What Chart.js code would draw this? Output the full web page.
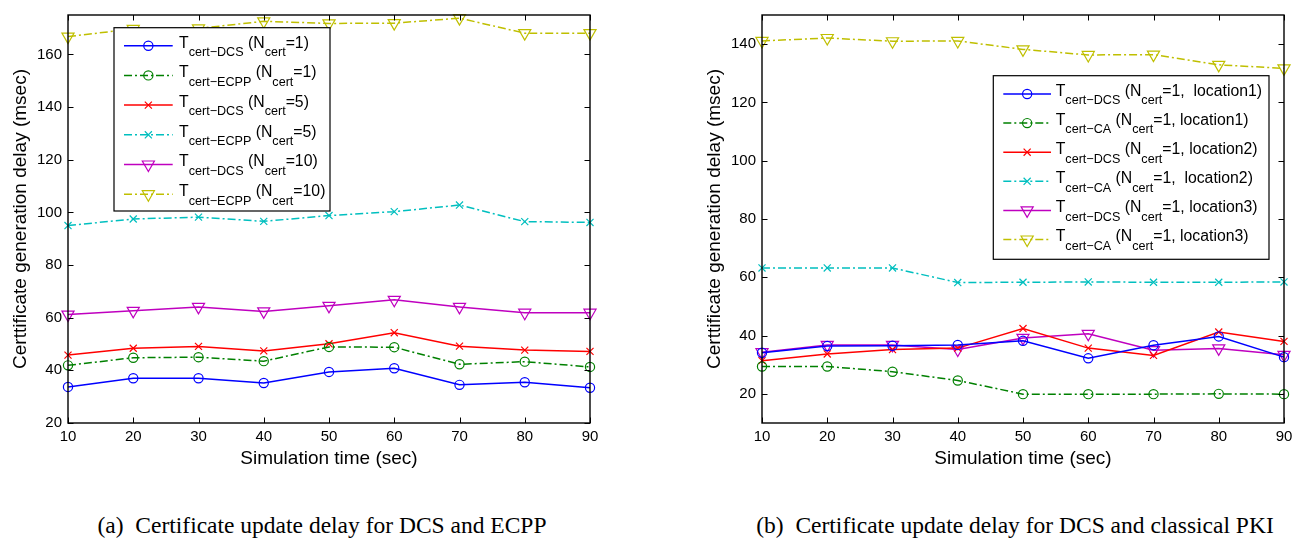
<!DOCTYPE html>
<html>
<head>
<meta charset="utf-8">
<script src="https://cdn.jsdelivr.net/npm/chart.js@4.4.1/dist/chart.umd.min.js"></script>
<style>
body { margin:0; background:#fff; width:1299px; height:539px; position:relative; overflow:hidden; }
.panel { position:absolute; top:0; height:480px; }
.cap { position:absolute; top:514px; font-family:"Liberation Serif", "Times New Roman", serif; font-size:23.5px; line-height:1; white-space:nowrap; transform:translateX(-50%); color:#000; }
</style>
</head>
<body>
<div class="panel" style="left:0;width:650px"><canvas id="chartA"></canvas></div>
<div class="panel" style="left:650px;width:649px"><canvas id="chartB"></canvas></div>
<div class="cap" style="left:322px">(a)&nbsp;&nbsp;Certificate update delay for DCS and ECPP</div>
<div class="cap" style="left:1015px">(b)&nbsp;&nbsp;Certificate update delay for DCS and classical PKI</div>
<script>
// simulation time (x axis)
var timeSec = [10, 20, 30, 40, 50, 60, 70, 80, 90];
var yTicksA = [20, 40, 60, 80, 100, 120, 140, 160];
var yTicksB = [20, 40, 60, 80, 100, 120, 140];

// (a) DCS vs ECPP
var dcsN1   = [33.7, 37.0, 37.0, 35.2, 39.4, 40.8, 34.5, 35.5, 33.4];
var ecppN1  = [41.9, 44.8, 45.0, 43.5, 48.9, 48.8, 42.3, 43.3, 41.3];
var dcsN5   = [45.8, 48.4, 49.1, 47.4, 50.1, 54.3, 49.2, 47.7, 47.2];
var ecppN5  = [95.0, 97.5, 98.2, 96.6, 98.8, 100.3, 102.8, 96.5, 96.2];
var dcsN10  = [61.2, 62.6, 64.1, 62.4, 64.5, 66.8, 64.1, 61.9, 61.9];
var ecppN10 = [166.8, 169.7, 169.9, 172.6, 171.8, 171.9, 173.8, 168.1, 168.1];
var labelsA = [
    'T_{cert\u2212DCS} (N_{cert}=1)',
    'T_{cert\u2212ECPP} (N_{cert}=1)',
    'T_{cert\u2212DCS} (N_{cert}=5)',
    'T_{cert\u2212ECPP} (N_{cert}=5)',
    'T_{cert\u2212DCS} (N_{cert}=10)',
    'T_{cert\u2212ECPP} (N_{cert}=10)'
];

// (b) DCS vs classical PKI
var dcsLoc1 = [34.1, 36.4, 36.5, 36.8, 38.2, 32.2, 36.7, 39.7, 32.6];
var caLoc1  = [29.4, 29.4, 27.6, 24.6, 19.9, 19.9, 19.9, 20.0, 19.9];
var dcsLoc2 = [31.4, 33.7, 35.2, 35.7, 42.4, 35.7, 33.2, 41.2, 38.0];
var caLoc2  = [63.2, 63.2, 63.2, 58.2, 58.3, 58.4, 58.3, 58.3, 58.4];
var dcsLoc3 = [34.3, 36.8, 36.8, 35.2, 39.2, 40.6, 35.0, 35.6, 33.4];
var caLoc3  = [141.1, 142.1, 141.0, 141.1, 138.2, 136.3, 136.4, 132.9, 131.7];
var labelsB = [
    'T_{cert\u2212DCS} (N_{cert}=1,  location1)',
    'T_{cert\u2212CA} (N_{cert}=1, location1)',
    'T_{cert\u2212DCS} (N_{cert}=1, location2)',
    'T_{cert\u2212CA} (N_{cert}=1,  location2)',
    'T_{cert\u2212DCS} (N_{cert}=1, location3)',
    'T_{cert\u2212CA} (N_{cert}=1, location3)'
];

var FONT = '"Liberation Sans", Arial, Helvetica, sans-serif';
var dashDot = [8, 3, 2, 3];
var looks = [
    {color: '#0000ff', dash: [], point: 'circle', r: 4.6, rot: 0},
    {color: '#008000', dash: dashDot, point: 'circle', r: 4.6, rot: 0},
    {color: '#ff0000', dash: [], point: 'crossRot', r: 5, rot: 0},
    {color: '#00bfbf', dash: dashDot, point: 'crossRot', r: 5, rot: 0},
    {color: '#bf00bf', dash: [], point: 'triangle', r: 7, rot: 180},
    {color: '#bfbf00', dash: dashDot, point: 'triangle', r: 7, rot: 180}
];

function makeDatasets(series, labels) {
    return series.map(function (vals, i) {
        var l = looks[i];
        return {
            label: labels[i],
            data: vals.map(function (v, k) { return {x: timeSec[k], y: v}; }),
            borderColor: l.color,
            borderWidth: 1.5,
            borderDash: l.dash,
            pointStyle: l.point,
            pointRadius: l.r,
            pointRotation: l.rot,
            pointBorderWidth: 1.2,
            pointBorderColor: l.color,
            pointBackgroundColor: 'rgba(0,0,0,0)',
            tension: 0,
            clip: false
        };
    });
}

// draws "T_{sub} ..." with subscripts
function drawTex(ctx, text, x, y) {
    var parts = text.split(/_\{([^}]*)\}/);
    parts.forEach(function (p, k) {
        var sub = k % 2 === 1;
        ctx.font = (sub ? 12.6 : 15.8) + 'px ' + FONT;
        ctx.fillText(p, x, sub ? y + 8.5 : y);
        x += ctx.measureText(p).width;
    });
}

// matlab style box with inward ticks
var frameTicks = {
    id: 'frameTicks',
    afterDatasetsDraw: function (chart) {
        var a = chart.chartArea, ctx = chart.ctx;
        var xs = chart.scales.x, ys = chart.scales.y, len = 5.5;
        ctx.save();
        ctx.strokeStyle = '#000';
        ctx.lineWidth = 1;
        ctx.beginPath();
        xs.ticks.forEach(function (t) {
            var px = Math.round(xs.getPixelForValue(t.value)) + 0.5;
            ctx.moveTo(px, a.bottom); ctx.lineTo(px, a.bottom - len);
            ctx.moveTo(px, a.top); ctx.lineTo(px, a.top + len);
        });
        ys.ticks.forEach(function (t) {
            var py = Math.round(ys.getPixelForValue(t.value)) + 0.5;
            ctx.moveTo(a.left, py); ctx.lineTo(a.left + len, py);
            ctx.moveTo(a.right, py); ctx.lineTo(a.right - len, py);
        });
        ctx.stroke();
        ctx.lineWidth = 1.4;
        ctx.strokeRect(a.left, a.top, a.right - a.left, a.bottom - a.top);
        ctx.restore();
    }
};

var texLegend = {
    id: 'texLegend',
    afterDraw: function (chart, args, o) {
        var ctx = chart.ctx, b = o.box;
        ctx.save();
        ctx.fillStyle = '#fff';
        ctx.fillRect(b[0], b[1], b[2], b[3]);
        ctx.strokeStyle = '#000';
        ctx.lineWidth = 1.2;
        ctx.strokeRect(b[0], b[1], b[2], b[3]);
        chart.data.datasets.forEach(function (ds, i) {
            var y = o.rowY + i * o.rowGap;
            ctx.strokeStyle = ds.borderColor;
            ctx.lineWidth = ds.borderWidth;
            ctx.setLineDash(ds.borderDash);
            ctx.beginPath();
            ctx.moveTo(o.sample[0], y);
            ctx.lineTo(o.sample[1], y);
            ctx.stroke();
            ctx.setLineDash([]);
            ctx.lineWidth = ds.pointBorderWidth;
            ctx.fillStyle = 'rgba(0,0,0,0)';
            Chart.helpers.drawPoint(ctx, {
                pointStyle: ds.pointStyle, radius: ds.pointRadius,
                rotation: ds.pointRotation, borderWidth: ds.pointBorderWidth
            }, (o.sample[0] + o.sample[1]) / 2, y);
            ctx.fillStyle = '#000';
            ctx.textBaseline = 'alphabetic';
            drawTex(ctx, ds.label, o.textX, y + 1.8);
        });
        ctx.restore();
    }
};

function makeChart(id, series, labels, yMax, yMin, yTicks, yWidth, yTitlePad, rightPad, legend) {
    var ctx = document.getElementById(id).getContext('2d');
    return new Chart(ctx, {
        type: 'line',
        data: {datasets: makeDatasets(series, labels)},
        options: {
            responsive: true,
            maintainAspectRatio: false,
            animation: false,
            layout: {padding: {top: 11, right: rightPad, left: 0, bottom: 0}},
            plugins: {
                legend: {display: false},
                tooltip: {enabled: false},
                texLegend: legend
            },
            scales: {
                x: {
                    type: 'linear', min: 10, max: 90,
                    afterBuildTicks: function (s) { s.ticks = timeSec.map(function (v) { return {value: v}; }); },
                    afterFit: function (s) { s.height = 57; },
                    grid: {display: false, drawTicks: false},
                    border: {display: false},
                    ticks: {padding: 5, color: '#000', font: {family: FONT, size: 15}},
                    title: {display: true, text: 'Simulation time (sec)', color: '#000',
                        font: {family: FONT, size: 19}, padding: {top: 0, bottom: 10}}
                },
                y: {
                    min: yMin, max: yMax,
                    afterBuildTicks: function (s) { s.ticks = yTicks.map(function (v) { return {value: v}; }); },
                    afterFit: function (s) { s.width = yWidth; },
                    grid: {display: false, drawTicks: false},
                    border: {display: false},
                    ticks: {padding: 6, color: '#000', font: {family: FONT, size: 15}},
                    title: {display: true, text: 'Certtificate generation delay (msec)', color: '#000',
                        font: {family: FONT, size: 19}, padding: {top: yTitlePad, bottom: 0}}
                }
            }
        },
        plugins: [frameTicks, texLegend]
    });
}

makeChart('chartA', [dcsN1, ecppN1, dcsN5, ecppN5, dcsN10, ecppN10], labelsA,
    175, 20, yTicksA, 68, 9.5, 60,
    {box: [114, 27.7, 216, 183.3], rowY: 45.7, rowGap: 29.7, sample: [124, 172.7], textX: 179});

makeChart('chartB', [dcsLoc1, caLoc1, dcsLoc2, caLoc2, dcsLoc3, caLoc3], labelsB,
    150, 10, yTicksB, 112, 53.5, 15,
    {box: [343.3, 75.7, 275.7, 183.6], rowY: 94, rowGap: 29.1, sample: [353.3, 401], textX: 405.7});
</script>
</body>
</html>
